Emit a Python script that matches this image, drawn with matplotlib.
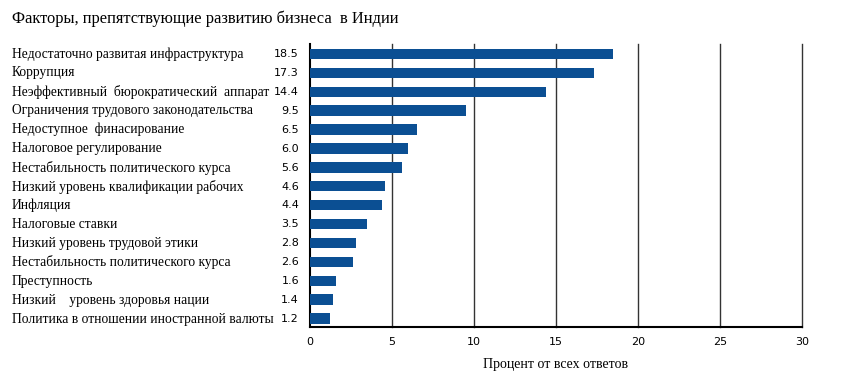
import matplotlib
matplotlib.use("Agg")
import matplotlib.pyplot as plt

categories = [
    "Недостаточно развитая инфраструктура",
    "Коррупция",
    "Неэффективный  бюрократический  аппарат",
    "Ограничения трудового законодательства",
    "Недоступное  финасирование",
    "Налоговое регулирование",
    "Нестабильность политического курса",
    "Низкий уровень квалификации рабочих",
    "Инфляция",
    "Налоговые ставки",
    "Низкий уровень трудовой этики",
    "Нестабильность политического курса",
    "Преступность",
    "Низкий    уровень здоровья нации",
    "Политика в отношении иностранной валюты",
]
values = [18.5, 17.3, 14.4, 9.5, 6.5, 6.0, 5.6, 4.6, 4.4, 3.5, 2.8, 2.6, 1.6, 1.4, 1.2]
value_labels = ["18.5", "17.3", "14.4", "9.5", "6.5", "6.0", "5.6", "4.6", "4.4", "3.5", "2.8", "2.6", "1.6", "1.4", "1.2"]
xticks = [0, 5, 10, 15, 20, 25, 30]

W, H = 856, 375
fig = plt.figure(figsize=(W / 100, H / 100), dpi=100)
left, right, top, bottom = 310, 802, 44, 327
ax = fig.add_axes([left / W, 1 - bottom / H, (right - left) / W, (bottom - top) / H])

n = len(values)
ypos = list(range(n))
ax.barh(ypos, values, height=0.55, color="#0b4f93", zorder=3)
ax.set_xlim(0, 30)
ax.set_ylim(n - 1 + 0.45, -0.53)
ax.set_xticks(xticks)
ax.set_xticklabels([str(t) for t in xticks], fontsize=8, family="DejaVu Sans")
ax.tick_params(axis="x", length=0, pad=7)
ax.set_yticks([])
for x in xticks[1:]:
    ax.axvline(x, color="#333333", lw=1.0, zorder=1, clip_on=False)
for s in ["top", "right"]:
    ax.spines[s].set_visible(False)
ax.spines["left"].set_color("black")
ax.spines["bottom"].set_color("black")
ax.spines["left"].set_linewidth(1.5)
ax.spines["bottom"].set_linewidth(1.5)

ax.set_xlabel("Процент от всех ответов", fontsize=10, family="Liberation Serif", labelpad=8)

for i, (cat, lab) in enumerate(zip(categories, value_labels)):
    y_px = 54 + i * (319 - 54) / (n - 1)
    fig.text(12 / W, 1 - y_px / H, cat, ha="left", va="center", fontsize=9.75,
             family="Liberation Serif")
    fig.text(299 / W, 1 - y_px / H, lab, ha="right", va="center", fontsize=8,
             family="DejaVu Sans")

fig.text(12 / W, 1 - 19 / H, "Факторы, препятствующие развитию бизнеса  в Индии",
         ha="left", va="center", fontsize=11.9, family="Liberation Serif")

fig.savefig("out.png", dpi=100)
